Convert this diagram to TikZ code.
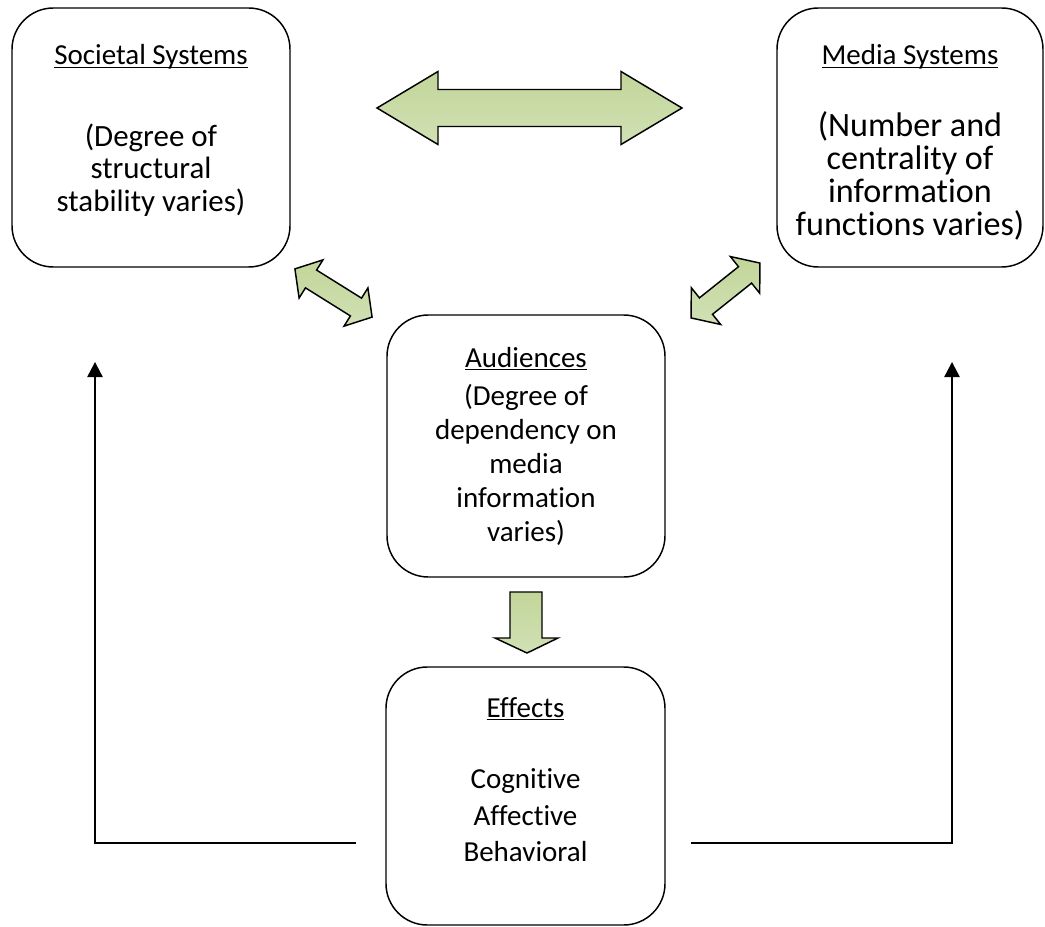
\documentclass[tikz,border=0pt]{standalone}
\usepackage{fontspec}
\setmainfont{Carlito}[Ligatures=NoCommon]
\usetikzlibrary{arrows.meta}
\definecolor{agreenA}{RGB}{194,213,153}
\definecolor{agreenB}{RGB}{209,225,181}
\newcommand{\ulx}[1]{\setbox0\hbox{#1}\rlap{\rule[-2.6pt]{\wd0}{1.1pt}}\box0}
\newcommand{\fr}[1]{\rule{0pt}{#1}}
\newcommand{\dblarrow}[7]{%
  \pgfmathsetmacro\arrHa{#4/2}\pgfmathsetmacro\arrHs{#5/2}%
  \pgfmathsetmacro\arrHh{#6/2}\pgfmathsetmacro\arrHb{#4/2-#7}%
  \begin{scope}[shift={(#1,#2)},rotate=#3]
    \draw[blockarrow] (-\arrHa,0) -- (-\arrHb,\arrHh) -- (-\arrHb,\arrHs) -- (\arrHb,\arrHs)
      -- (\arrHb,\arrHh) -- (\arrHa,0) -- (\arrHb,-\arrHh) -- (\arrHb,-\arrHs)
      -- (-\arrHb,-\arrHs) -- (-\arrHb,-\arrHh) -- cycle;
  \end{scope}}
\tikzset{
  box/.style={draw, line width=1.1pt, rounded corners=31pt, inner sep=0pt},
  title/.style={anchor=base, inner sep=0pt, font=\fontsize{21.75pt}{25pt}\selectfont},
  body/.style={anchor=north, align=center, inner sep=0pt},
  blockarrow/.style={line width=1.1pt, line join=miter, top color=agreenA, bottom color=agreenB},
  fb/.style={line width=1.2pt, -{Triangle[width=11.5pt,length=11.3pt]}}
}
\begin{document}
\begin{tikzpicture}[x=0.75pt,y=-0.75pt]
\useasboundingbox (0,0) rectangle (1045,927);
% boxes
\node[box, minimum width=208.5pt, minimum height=194.25pt] (soc) at (151,137.5) {};
\node[box, minimum width=199.5pt, minimum height=194.25pt] (med) at (910,137.5) {};
\node[box, minimum width=208.5pt, minimum height=196.5pt] (aud) at (526,446) {};
\node[box, minimum width=209.25pt, minimum height=193.5pt] (eff) at (525.5,796) {};
% texts
\node[title] (socT) at (151,65) {\ulx{Societal Systems}};
\node[body, font=\fontsize{23.2pt}{24.4pt}\selectfont] (socB) at (151,120.7)
  {\fr{19pt}(Degree of\\structural\\stability varies)};
\node[title] (medT) at (910,65) {\ulx{Media Systems}};
\node[body, font=\fontsize{25.6pt}{24.75pt}\selectfont] (medB) at (910,108.7)
  {\fr{21pt}(Number and\\centrality of\\information\\functions varies)};
\node[title] (audT) at (526,367) {\ulx{Audiences}};
\node[body, font=\fontsize{21.75pt}{25.5pt}\selectfont] (audB) at (526,382.3)
  {\fr{17pt}(Degree of\\dependency on\\media\\information\\varies)};
\node[title] (effT) at (525.5,717) {\ulx{Effects}};
\node[body, font=\fontsize{21.75pt}{27.6pt}\selectfont] (effB) at (525.5,765.3)
  {\fr{17pt}Cognitive\\Affective\\Behavioral};
% block arrows
\dblarrow{529.5}{108}{0}{305}{37}{73}{61}
\dblarrow{333.5}{293}{-32}{91}{21}{45}{19}
\dblarrow{725.5}{290.5}{38.6}{88}{21}{47}{19}
\draw[blockarrow] (510,592) -- (542,592) -- (542,638) -- (558,638) -- (527,653)
  -- (495,638) -- (510,638) -- cycle;
% feedback connectors
\coordinate (lA) at (356,843);
\coordinate (lB) at (95,362);
\coordinate (rA) at (691,843);
\coordinate (rB) at (952,362);
\draw[fb] (lA) -| (lB);
\draw[fb] (rA) -| (rB);
\end{tikzpicture}
\end{document}
